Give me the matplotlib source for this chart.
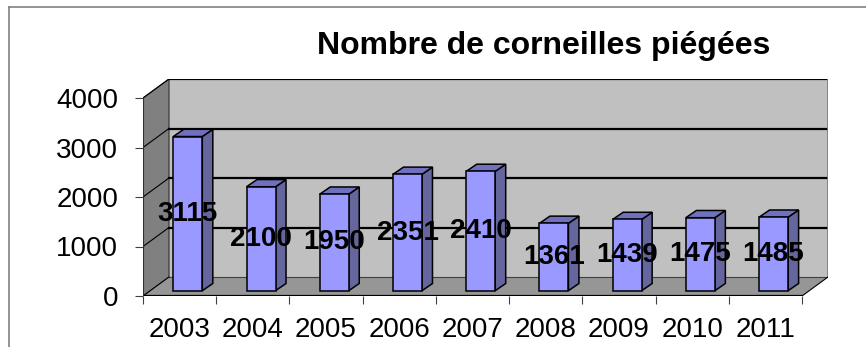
import matplotlib
matplotlib.use("Agg")
import matplotlib.pyplot as plt
from matplotlib.patches import Polygon, Rectangle
from matplotlib.lines import Line2D

years = ["2003", "2004", "2005", "2006", "2007", "2008", "2009", "2010", "2011"]
counts = [3115, 2100, 1950, 2351, 2410, 1361, 1439, 1475, 1485]
yticks = [0, 1000, 2000, 3000, 4000]
title = "Nombre de corneilles piégées"

plt.rcParams["font.family"] = ["Liberation Sans", "DejaVu Sans"]

W, H = 866, 347
fig = plt.figure(figsize=(W / 100, H / 100), dpi=100)

# Pixel geometry of the plot box (front plane + depth)
px_left, px_right = 143, 828
px_bottom, px_top = 296, 79
ax = fig.add_axes([px_left / W, 1 - px_bottom / H,
                   (px_right - px_left) / W, (px_bottom - px_top) / H])

n = len(years)
ymax = 4000
px_per_cat = (802 - 143) / n
px_per_unit = (296 - 98) / ymax
# wall depth in data units
ddx = 26 / px_per_cat
ddy = 19 / px_per_unit
ax.set_xlim(-0.5, n - 0.5 + ddx)
ax.set_ylim(0, ymax + ddy)

x0, x1 = -0.5, n - 0.5

# back wall
ax.add_patch(Rectangle((x0 + ddx, ddy), n, ymax, facecolor="#c0c0c0",
                       edgecolor="none", zorder=1))
# left side wall
ax.add_patch(Polygon([(x0, 0), (x0 + ddx, ddy), (x0 + ddx, ymax + ddy), (x0, ymax)],
                     closed=True, facecolor="#808080", edgecolor="#303030",
                     linewidth=0.8, zorder=1))
# floor
ax.add_patch(Polygon([(x0, 0), (x1, 0), (x1 + ddx, ddy), (x0 + ddx, ddy)],
                     closed=True, facecolor="#969696", edgecolor="none", zorder=1))

# gridlines on the back wall and across the side wall
for v in yticks:
    lw = 1.6 if v > 0 else 0.8
    col = "black" if v > 0 else "#404040"
    ax.add_line(Line2D([x0 + ddx, x1 + ddx], [v + ddy, v + ddy], color=col,
                       linewidth=lw, zorder=2))
    ax.add_line(Line2D([x0, x0 + ddx], [v, v + ddy], color="black",
                       linewidth=0.8, zorder=2))
# right edge of back wall
ax.add_line(Line2D([x1 + ddx, x1 + ddx], [ddy, ymax + ddy], color="#7a7a7a",
                   linewidth=1.2, zorder=2))
# floor right edge and front edge
ax.add_line(Line2D([x1, x1 + ddx], [0, ddy], color="black", linewidth=0.8, zorder=2))
ax.add_line(Line2D([x0, x1], [0, 0], color="black", linewidth=1.6, zorder=6))
ax.add_line(Line2D([x0, x0], [0, ymax], color="#303030", linewidth=0.8, zorder=6))

# 3D bars
bw = 29 / px_per_cat
shift = 8.2 / px_per_cat
base = 5.3 / px_per_unit
bdx = 10.5 / px_per_cat
bdy = 7.2 / px_per_unit
for i, v in enumerate(counts):
    xl = i + shift - bw / 2
    xr = i + shift + bw / 2
    top = base + v
    ek = dict(edgecolor="black", linewidth=1.1, joinstyle="miter", zorder=4)
    ax.add_patch(Polygon([(xr, base), (xr + bdx, base + bdy), (xr + bdx, top + bdy), (xr, top)],
                         closed=True, facecolor="#66669e", **ek))
    ax.add_patch(Polygon([(xl, top), (xr, top), (xr + bdx, top + bdy), (xl + bdx, top + bdy)],
                         closed=True, facecolor="#7070c0", **ek))
    ax.add_patch(Rectangle((xl, base), bw, v, facecolor="#9999ff", **ek))
    ax.text(i + shift, base + v / 2, f"{v}", ha="center", va="center",
            fontsize=20, fontweight="bold", color="black", zorder=8)

for s in ax.spines.values():
    s.set_visible(False)
ax.patch.set_visible(False)

ax.set_yticks(yticks)
ax.set_yticklabels([str(t) for t in yticks], fontsize=20)
ax.tick_params(axis="y", length=6, width=0.8, color="#404040", pad=12)

ax.set_xticks(range(n))
ax.set_xticklabels(years, fontsize=20)
ax.set_xticks([i - 0.5 for i in range(n + 1)], minor=True)
ax.tick_params(axis="x", which="major", length=0, pad=15)
ax.tick_params(axis="x", which="minor", length=5.5, width=0.8, color="#404040")

fig.text(544 / W, 1 - 54 / H, title, ha="center", va="baseline",
         fontsize=23, fontweight="bold")

# outer frame
fig.add_artist(Line2D([9.3 / W, 9.3 / W], [0, 1 - 6.7 / H], color="#808080",
                      linewidth=1.2, transform=fig.transFigure))
fig.add_artist(Line2D([9.3 / W, 1], [1 - 6.7 / H, 1 - 6.7 / H], color="#808080",
                      linewidth=1.2, transform=fig.transFigure))

fig.savefig("out.png", dpi=100)
